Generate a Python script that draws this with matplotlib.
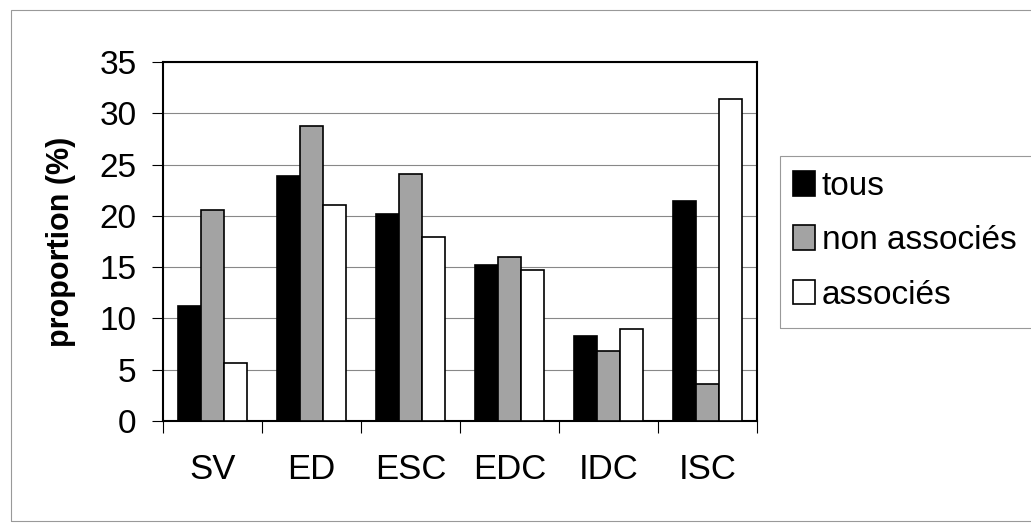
import numpy as np
import matplotlib
matplotlib.use("Agg")
from matplotlib import pyplot as plt
from matplotlib.patches import Rectangle

plt.rcParams['font.family'] = ['Liberation Sans', 'DejaVu Sans']

# données
categories = ['SV', 'ED', 'ESC', 'EDC', 'IDC', 'ISC']
tous = [11.2, 23.9, 20.2, 15.2, 8.3, 21.4]
non_associes = [20.6, 28.8, 24.1, 16.0, 6.8, 3.6]
associes = [5.7, 21.1, 17.9, 14.7, 9.0, 31.4]
series_labels = ['tous', 'non associés', 'associés']

W, H = 1031, 531
fig = plt.figure(figsize=(W / 100, H / 100), dpi=100)

# cadre extérieur (déborde à droite)
fig.patches.append(Rectangle((11 / W, 1 - 521 / H), 1.2, (521 - 10) / H,
                             transform=fig.transFigure, fill=False,
                             edgecolor='#999999', linewidth=0.8))

ax = fig.add_axes([163 / W, 1 - 421 / H, 594 / W, 359 / H])

x = np.arange(len(categories))
w = 0.235
ax.bar(x - w, tous, w, color='black', edgecolor='black', linewidth=1.2, label=series_labels[0], zorder=3)
ax.bar(x, non_associes, w, color='#a3a3a3', edgecolor='black', linewidth=1.2, label=series_labels[1], zorder=3)
ax.bar(x + w, associes, w, color='white', edgecolor='black', linewidth=1.2, label=series_labels[2], zorder=3)

ax.set_xlim(-0.5, len(categories) - 0.5)
ax.set_ylim(0, 35)
ax.set_yticks(range(0, 36, 5))
ax.yaxis.grid(True, color='#888888', linewidth=0.8)
ax.set_axisbelow(True)

# ticks x entre les catégories (style Excel)
ax.set_xticks(x)
ax.set_xticklabels(categories)
ax.set_xticks(np.arange(-0.5, len(categories), 1), minor=True)
ax.tick_params(axis='x', which='major', length=0, labelsize=25, pad=23)
ax.tick_params(axis='x', which='minor', length=8.6, direction='out', width=0.8)
ax.tick_params(axis='y', labelsize=24, length=8, width=0.8, pad=11)

for s in ax.spines.values():
    s.set_linewidth(1.5)
    s.set_color('black')

ax.set_ylabel('proportion (%)', fontsize=22, fontweight='bold', labelpad=17)

# légende
leg = fig.legend(loc='upper left', bbox_to_anchor=(793 / W, 1 - 171 / H),
                 bbox_transform=fig.transFigure, fontsize=24, frameon=False,
                 handlelength=0.67, handleheight=0.76, handletextpad=0.2,
                 borderpad=0, borderaxespad=0, labelspacing=0.7)
fig.patches.append(Rectangle((780 / W, 1 - 328 / H), 0.5, (328 - 156) / H,
                             transform=fig.transFigure, fill=False,
                             edgecolor='#999999', linewidth=0.8))

plt.savefig('out.png', dpi=100)
